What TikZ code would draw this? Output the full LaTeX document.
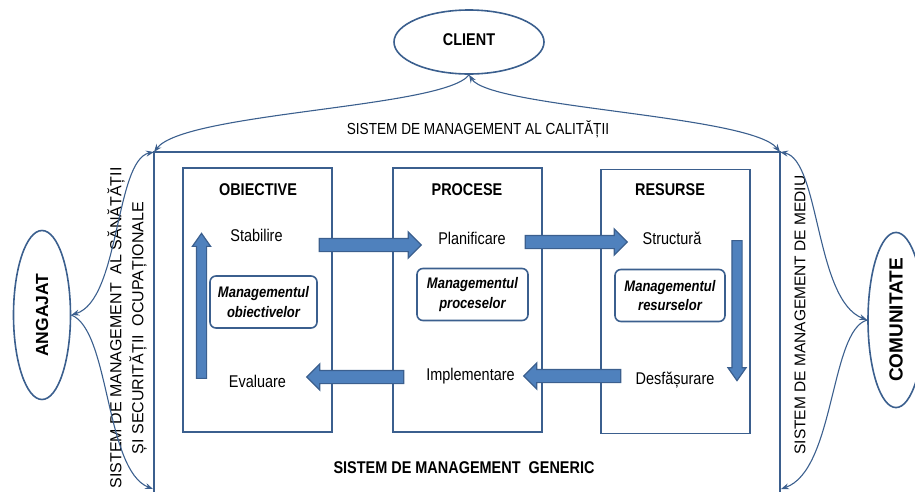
\documentclass[tikz,border=0pt]{standalone}
\usepackage{fontspec}
\setmainfont{Liberation Sans}[FakeStretch=0.85]
\newfontfamily\sidefont{Liberation Sans}
\usepackage{graphicx}
\usetikzlibrary{arrows.meta, positioning, shapes.geometric, shapes.arrows}
\definecolor{lineblue}{HTML}{3B5F8E}
\definecolor{fillblue}{HTML}{4F81BD}
\tikzset{>={Stealth[length=8pt, width=6pt]}}

\begin{document}
\begin{tikzpicture}[x=1pt, y=-1pt,
    txt/.style={font=\fontsize{17}{19}\selectfont},
    heading/.style={font=\fontsize{17}{19}\selectfont\bfseries},
    party/.style={ellipse, draw=lineblue, line width=1.6pt, inner sep=0pt},
    area/.style={draw=lineblue, line width=1.9pt, minimum width=149pt, minimum height=264pt},
    mgmt/.style={draw=lineblue, line width=1.6pt, rounded corners=6pt, align=center, minimum height=52pt, inner sep=2pt, font=\fontsize{15.3}{19.5}\selectfont\bfseries\itshape},
    link/.style={draw=lineblue, line width=1.1pt},
    sysframe/.style={draw=lineblue, line width=1.2pt},
    sidelabel/.style={rotate=90, align=center, font=\sidefont\fontsize{16}{22}\selectfont},
    blockarrow/.style={single arrow, draw=lineblue, fill=fillblue, line width=1.2pt, inner xsep=0pt, inner ysep=6pt, single arrow head extend=6.5pt, single arrow head indent=0pt},
    slimarrow/.style={blockarrow, inner ysep=4.5pt, single arrow head extend=4pt, single arrow tip angle=70}]
  \useasboundingbox (0,0) rectangle (915,491);

  % outer system frame
  \coordinate (tl) at (154,152);
  \coordinate (tr) at (780,152);
  \coordinate (bl) at (154,496);
  \coordinate (br) at (780,496);
  \coordinate (lowL) at (153,489);
  \coordinate (lowR) at (781,489);
  \draw[sysframe] (bl) -- (tl) -- (tr) -- (br);

  % parties
  \node[party, minimum width=150pt, minimum height=64pt] (client) at (469,42) {\raisebox{5pt}{\fontsize{17}{19}\selectfont\bfseries CLIENT}};
  \node[party, minimum width=57pt, minimum height=169pt] (angajat) at (42,315) {\rotatebox{90}{\sidefont\fontsize{17.5}{20}\selectfont\bfseries ANGAJAT}};
  \node[party, minimum width=56pt, minimum height=166pt] (comunitate) at (896,320) {\rotatebox{90}{\sidefont\fontsize{19}{21}\selectfont\bfseries COMUNITATE}};

  % system labels
  \node[txt, font=\fontsize{16}{19}\selectfont] (calitate) at (478,129) {SISTEM DE MANAGEMENT AL CALITĂȚII};
  \node[heading] (generic) at (464,468) {SISTEM DE MANAGEMENT\ \ GENERIC};
  \node[sidelabel] (sanatate) at (127,328) {SISTEM DE MANAGEMENT\ \ AL SĂNĂTĂȚII\\ȘI SECURITĂȚII\ \ OCUPAȚIONALE};
  \node[sidelabel, font=\sidefont\fontsize{15.5}{19}\selectfont] (mediu) at (800,315) {SISTEM DE MANAGEMENT DE MEDIU};

  % the three areas
  \node[area] (obiective) at (257.5,300) {};
  \node[area] (procese) at (467.5,300) {};
  \node[area] (resurse) at (675.5,301.5) {};
  \node[heading] (tobj) at (258,190) {OBIECTIVE};
  \node[heading] (tproc) at (467,190) {PROCESE};
  \node[heading] (tres) at (670,190) {RESURSE};

  \node[txt] (stab) at (256.5,235) {Stabilire};
  \node[txt] (plan) at (472,238) {Planificare};
  \node[txt] (struct) at (672,238) {Structură};
  \node[txt] (eval) at (257.5,381) {Evaluare};
  \node[txt] (impl) at (470.5,376) {Implementare};
  \node[txt] (desf) at (675,380) {Desfășurare};

  \node[mgmt, minimum width=107pt] (mobj) at (263.5,302) {Managementul\\obiectivelor};
  \node[mgmt, minimum width=111pt] (mproc) at (472.5,294.5) {Managementul\\proceselor};
  \node[mgmt, minimum width=110pt] (mres) at (670,295.5) {Managementul\\resurselor};

  % cycle arrows
  \node[blockarrow, minimum height=102pt] (a1) at (367,245) {};
  \node[blockarrow, minimum height=102pt] (a2) at (573,242) {};
  \node[slimarrow, minimum height=140pt, rotate=-90] (a3) at (737,307) {};
  \node[blockarrow, minimum height=97pt, rotate=180] (a4) at (575.5,376) {};
  \node[blockarrow, minimum height=97pt, rotate=180] (a5) at (358.5,377) {};
  \node[slimarrow, minimum height=145pt, rotate=90] (a6) at (201.5,309.5) {};

  % links to the parties
  \draw[link, ->] (client.south) .. controls (445,108) and (185,112) .. (tl);
  \draw[link, <->] (client.south) .. controls (490,108) and (750,115) .. (tr);
  \draw[link, <->] (tl) .. controls (115,160) and (120,300) .. (angajat.east);
  \draw[link, ->] (angajat.east) .. controls (110,330) and (105,470) .. (lowL);
  \draw[link, <->] (tr) .. controls (820,160) and (815,300) .. (comunitate.west);
  \draw[link, ->] (comunitate.west) .. controls (830,330) and (835,470) .. (lowR);
\end{tikzpicture}
\end{document}
